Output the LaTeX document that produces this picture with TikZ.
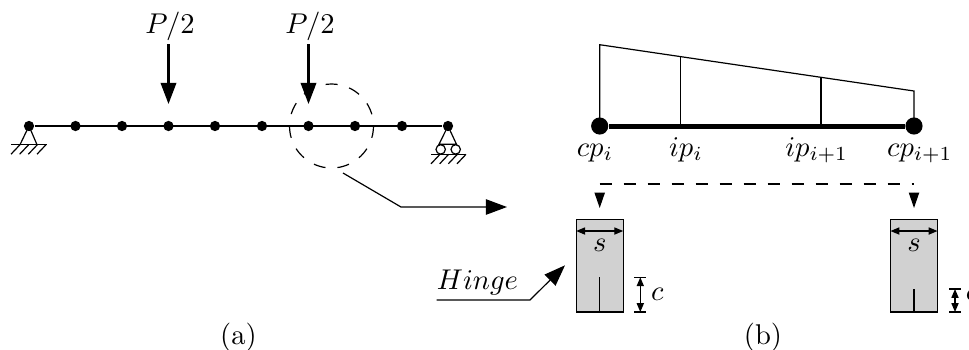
\documentclass[tikz,border=0pt]{standalone}
\usetikzlibrary{arrows.meta}
% One ground line with four hatch strokes below it.
\newcommand{\groundHatch}[3]{%
  \draw[thinStyle] (#1,#3) -- (#2,#3);
  \foreach \hatchStep in {0,1,2,3} {
    \draw[thinStyle] (#1+9+8.67*\hatchStep,#3) -- (#1+8.67*\hatchStep,#3+9.5);
  }
}
% A section with its width and crack depth arrows.
\newcommand{\hingeSection}[4]{%
  \coordinate (#1Mid) at (#2,219.5);
  \coordinate (#1Foot) at (#2,312);
  \coordinate (#1Crack) at (#2,#3);
  \coordinate (#1Left) at (#2-23.5,231);
  \coordinate (#1Right) at (#2+23.5,231);
  \draw[thinStyle,fill=sectionGray] (#2-23.5,219.5) rectangle (#2+23.5,312);
  \draw[thinStyle,tipSmall-tipSmall] (#1Left) -- (#1Right);
  \node[textStyle] (#1Width) at (#2,251.5) {$s$};
  \draw[thinStyle] (#1Crack) -- (#1Foot);
  \coordinate (#1DimTop) at (#4,#3);
  \coordinate (#1DimFoot) at (#4,312);
  \draw[thinStyle] (#4-6,#3) -- (#4+6,#3);
  \draw[thinStyle] (#4-6,312) -- (#4+6,312);
  \draw[thinStyle,tipSmall-tipSmall] (#1DimTop) -- (#1DimFoot);
  \node[textStyle] (#1Depth) at (#4+17,300) {$c$};
}

\begin{document}
\begin{tikzpicture}[x=0.35pt,y=-0.35pt,
  thinStyle/.style={line width=0.42pt},
  beamStyle/.style={line width=0.8pt},
  heavyStyle/.style={line width=1.75pt},
  jointStyle/.style={circle,fill=black,inner sep=0pt,minimum size=3.6pt},
  endStyle/.style={circle,fill=black,inner sep=0pt,minimum size=6pt},
  textStyle/.style={anchor=base,inner sep=0pt},
  tipBig/.tip={Triangle[length=7.4pt,width=5.4pt]},
  tipDown/.tip={Triangle[length=5.4pt,width=3.6pt]},
  tipSmall/.tip={Triangle[length=3.1pt,width=2.5pt]}
]
\definecolor{sectionGray}{gray}{0.82}
\clip (0,0) rectangle (969,349);
\useasboundingbox (0,0) rectangle (969,349);
%
% The beam in (a).
\foreach \jointName/\jointX in {jA/29,jB/75.5,jC/122,jD/168.5,jE/215,jF/262,jG/308.5,jH/355,jI/402,jJ/448} {
  \node[jointStyle] (\jointName) at (\jointX,126) {};
}
\draw[beamStyle] (jA) -- (jJ);
% Loads.
\coordinate (loadA) at (168.5,44);
\coordinate (loadB) at (308.5,44);
\coordinate (tipA) at (168.5,104);
\coordinate (tipB) at (308.5,104);
\draw[beamStyle,-tipBig] (loadA) -- (tipA);
\draw[beamStyle,-tipBig] (loadB) -- (tipB);
\node[textStyle] (labelA) at (170,33.5) {$P/2$};
\node[textStyle] (labelB) at (310,33.5) {$P/2$};
%
% Fixed support.
\coordinate (pinLeftA) at (20,144.7);
\coordinate (pinRightA) at (37,144.7);
\draw[thinStyle] (pinLeftA) -- (jA.center) -- (pinRightA);
\groundHatch{11}{47}{144.7}
% Roller support.
\coordinate (pinLeftB) at (439,144.3);
\coordinate (pinRightB) at (456.5,144.3);
\draw[thinStyle] (pinLeftB) -- (jJ.center) -- (pinRightB) -- cycle;
\draw[thinStyle] (440.7,149.4) circle[radius=4.7];
\draw[thinStyle] (455.7,149.4) circle[radius=4.7];
\groundHatch{431}{466}{154.3}
%
% Detail circle and its leader.
\draw[thinStyle,dash pattern=on 4.2pt off 4.2pt] (331.5,126) circle[radius=42];
\coordinate (leadStart) at (343,173);
\coordinate (leadBend) at (401,207);
\coordinate (leadEnd) at (507,207);
\draw[thinStyle,-tipBig] (leadStart) -- (leadBend) -- (leadEnd);
%
% The element in (b).
\node[endStyle] (cpA) at (599.7,126) {};
\node[endStyle] (cpB) at (914,126) {};
\coordinate (ipA) at (680.3,126);
\coordinate (ipB) at (821,126);
\coordinate (topA) at (599.7,44.7);
\coordinate (topB) at (680.3,56.6);
\coordinate (topC) at (821,77.3);
\coordinate (topD) at (914,91);
\draw[thinStyle] (cpA.center) -- (topA) -- (topD) -- (cpB.center);
\draw[thinStyle] (ipA) -- (topB);
\draw[thinStyle] (ipB) -- (topC);
\draw[heavyStyle] (cpA) -- (cpB);
\node[textStyle] (cpLabelA) at (595,156) {$cp_i$};
\node[textStyle] (ipLabelA) at (686,156) {$ip_i$};
\node[textStyle] (ipLabelB) at (816.7,156) {$ip_{i+1}$};
\node[textStyle] (cpLabelB) at (919.8,156) {$cp_{i+1}$};
%
% Dashed link and the two small arrows.
\coordinate (linkA) at (599.7,184);
\coordinate (linkB) at (914,184);
\draw[thinStyle,dash pattern=on 4.2pt off 4.2pt] (linkA) -- (linkB);
\coordinate (downA) at (599.7,192.5);
\coordinate (downB) at (914,192.5);
\coordinate (downTipA) at (599.7,208);
\coordinate (downTipB) at (914,208);
\draw[thinStyle,-tipDown] (downA) -- (downTipA);
\draw[thinStyle,-tipDown] (downB) -- (downTipB);
%
% The sections.
\hingeSection{secA}{599.7}{277.3}{640.3}
\hingeSection{secB}{914}{289}{955}
%
% Hinge pointer.
\node[textStyle] (hingeLabel) at (477.5,289) {$Hinge$};
\coordinate (hingeStart) at (436.7,300);
\coordinate (hingeBend) at (530,300);
\coordinate (hingeTip) at (565,265.3);
\draw[thinStyle,-tipBig] (hingeStart) -- (hingeBend) -- (hingeTip);
%
% Captions.
\node[textStyle] (captionA) at (238.5,344) {(a)};
\node[textStyle] (captionB) at (763,344) {(b)};
\end{tikzpicture}
\end{document}
